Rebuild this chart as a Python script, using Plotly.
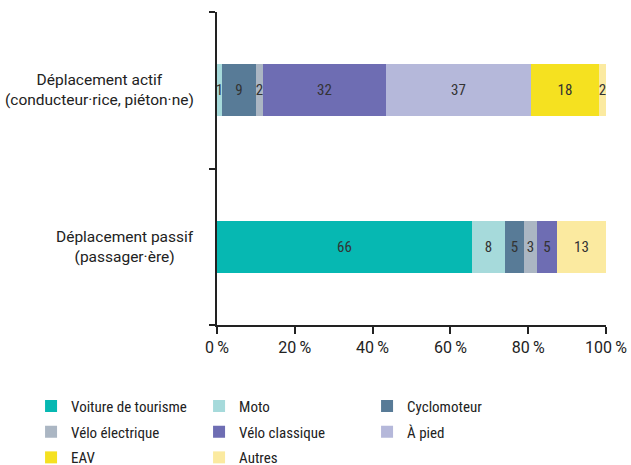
import plotly.graph_objects as go

categories = ["Déplacement passif", "Déplacement actif"]
cat_labels = ["Déplacement passif<br>(passager·ère)",
              "Déplacement actif<br>(conducteur·rice, piéton·ne)"]

modes = ["Voiture de tourisme", "Moto", "Cyclomoteur", "Vélo électrique",
         "Vélo classique", "À pied", "EAV", "Autres"]
# values per mode: [passif, actif]
voiture = [65.6, 0]
moto = [8.4, 1.2]
cyclo = [5.0, 8.7]
velo_elec = [3.3, 2.0]
velo_class = [5.0, 31.6]
a_pied = [0, 37.2]
eav = [0, 17.6]
autres = [12.7, 1.7]
series = [voiture, moto, cyclo, velo_elec, velo_class, a_pied, eav, autres]

colors = ["#06b8b2", "#a6dadb", "#587b97", "#abb6c3",
          "#6e6db3", "#b5b8da", "#f5e120", "#fbeaa0"]

x_ticks = [0, 20, 40, 60, 80, 100]
x_ticktext = ["0\u2009%", "20\u2009%", "40\u2009%", "60\u2009%", "80\u2009%", "100\u2009%"]

COND = "Roboto Condensed, Liberation Sans Narrow, sans-serif"
REG = "Roboto, sans-serif"
INK = "#222222"

# legend laid out in 3 rows of 3 like the original
legend_of = ["legend", "legend", "legend", "legend2", "legend2", "legend2", "legend3", "legend3"]

fig = go.Figure()
for name, vals, col, lg in zip(modes, series, colors, legend_of):
    txt = [str(round(v)) if v > 0 else "" for v in vals]
    fig.add_trace(go.Bar(
        y=categories, x=vals, name=name, orientation="h",
        marker=dict(color=col, line=dict(width=0)),
        text=txt, textposition="inside", insidetextanchor="middle",
        textangle=0, constraintext="none",
        textfont=dict(color="#333333", size=15, family=COND),
        width=0.33, hoverinfo="x+name", legend=lg,
    ))

# category labels, centred lines as in the original
for cat, lab in zip(categories, cat_labels):
    fig.add_annotation(x=-0.054, xref="paper", y=cat, yref="y", text=lab,
                       showarrow=False, align="center", xanchor="right",
                       font=dict(size=15.5, color=INK, family=REG))

leg = dict(orientation="h", x=-0.478, xanchor="left", yanchor="top",
           entrywidth=123, entrywidthmode="pixels", traceorder="normal",
           font=dict(size=15, family=COND, color=INK), bgcolor="rgba(0,0,0,0)")

fig.update_layout(
    barmode="stack",
    width=631, height=465,
    margin=dict(l=217, r=25, t=12, b=140, autoexpand=False),
    plot_bgcolor="white", paper_bgcolor="white",
    font=dict(family=REG, color=INK),
    bargap=0,
    showlegend=True,
    legend=dict(leg, y=-0.207),
    legend2=dict(leg, y=-0.289),
    legend3=dict(leg, y=-0.371),
)
fig.update_xaxes(range=[0, 100], tickvals=x_ticks, ticktext=x_ticktext,
                 showgrid=False, zeroline=False, showline=True, linecolor=INK,
                 linewidth=2, ticks="outside", ticklen=7, tickwidth=2, tickcolor=INK,
                 tickfont=dict(size=16, family=REG, color=INK))
fig.update_yaxes(categoryorder="array", categoryarray=categories,
                 showticklabels=False, tickson="boundaries", ticks="outside",
                 ticklen=6, tickwidth=2, tickcolor=INK,
                 showgrid=False, zeroline=False, showline=True, linecolor=INK,
                 linewidth=2)

# drop the default page margin so the figure sits at the window's corner
fig.write_html("out.html", config={"displayModeBar": False},
               post_script="document.body.style.margin='0';")
